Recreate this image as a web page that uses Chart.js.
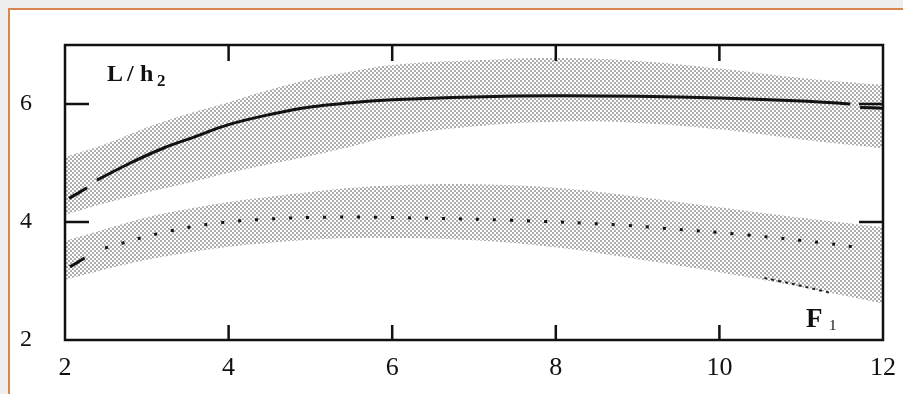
<!DOCTYPE html>
<html>
<head>
<meta charset="utf-8">
<script src="https://cdn.jsdelivr.net/npm/chart.js@4/dist/chart.umd.min.js"></script>
<style>
  body { margin: 0; background: #eeeeee; }
  #wrap { position: relative; width: 903px; height: 394px; overflow: hidden; }
  #sheet { position: absolute; left: 8px; top: 8px; right: -4px; bottom: -4px; background: #fff;
           border-left: 2px solid #d9854f; border-top: 2px solid #d9854f; }
  canvas { position: absolute; left: 0; top: 0; }
</style>
</head>
<body>
<div id="wrap">
  <div id="sheet"></div>
  <canvas id="chart" width="903" height="394"></canvas>
</div>
<script>
// axis ticks
const xTicks = [2, 4, 6, 8, 10, 12];
const yTicks = [2, 4, 6];

// shaded bands
const bandX = [2, 2.5, 3, 3.5, 4, 4.5, 5, 5.5, 6, 7, 8, 9, 10, 11, 12];
const upperBandTop = [5.10, 5.32, 5.60, 5.83, 6.03, 6.24, 6.42, 6.55, 6.66, 6.74, 6.78, 6.73, 6.60, 6.44, 6.32];
const upperBandBottom = [4.12, 4.32, 4.50, 4.66, 4.83, 4.98, 5.12, 5.28, 5.45, 5.62, 5.70, 5.68, 5.57, 5.40, 5.25];
const lowerBandTop = [3.68, 3.88, 4.08, 4.22, 4.34, 4.43, 4.51, 4.58, 4.62, 4.64, 4.58, 4.43, 4.25, 4.07, 3.91];
const lowerBandBottom = [3.02, 3.20, 3.36, 3.48, 3.58, 3.65, 3.70, 3.73, 3.73, 3.69, 3.57, 3.37, 3.15, 2.90, 2.62];

// solid curve (null = break in the line)
const solidX = [2.05, 2.27, 2.33, 2.39, 2.8, 3.2, 3.6, 4, 4.5, 5, 5.5, 6, 7, 8, 9, 10, 11, 11.6, 11.66, 11.72, 12];
const solidY = [4.40, 4.58, null, 4.71, 5.00, 5.25, 5.45, 5.65, 5.82, 5.95, 6.02, 6.07, 6.12, 6.14, 6.13, 6.10, 6.05, 6.00, null, 5.94, 5.93];

// dotted curve, first piece is a short dash
const dottedX = [2.06, 2.24, 2.35, 2.49, 3.16, 3.8, 4.48, 5.14, 5.77, 7.44, 8.78, 9.27, 10.34, 11.3, 11.74];
const dottedY = [3.24, 3.39, null, 3.56, 3.81, 3.97, 4.05, 4.08, 4.08, 4.03, 3.95, 3.90, 3.78, 3.64, 3.56];

// short dashed piece near the lower right
const tailX = [10.55, 10.9, 11.35];
const tailY = [3.05, 2.95, 2.80];

const pts = (xs, ys) => xs.map((x, i) => ({ x: x, y: ys[i] }));

// stipple pattern for the bands
const tile = document.createElement("canvas");
tile.width = 4; tile.height = 4;
const tc = tile.getContext("2d");
tc.fillStyle = "#8a8a8a";
[[1, 1], [3, 3]].forEach(p => { tc.beginPath(); tc.arc(p[0], p[1], 0.95, 0, Math.PI * 2); tc.fill(); });
const ctx = document.getElementById("chart").getContext("2d");
const stipple = ctx.createPattern(tile, "repeat");

const frame = {
  id: "frame",
  afterDraw(chart) {
    const a = chart.chartArea, c = chart.ctx;
    const sx = chart.scales.x, sy = chart.scales.y;
    c.save();
    c.strokeStyle = "#111";
    c.lineWidth = 2.5;
    c.strokeRect(a.left, a.top, a.right - a.left, a.bottom - a.top);
    // inward ticks
    [4, 6, 8, 10].forEach(v => {
      const px = sx.getPixelForValue(v);
      c.beginPath();
      c.moveTo(px, a.bottom); c.lineTo(px, a.bottom - 15);
      c.moveTo(px, a.top); c.lineTo(px, a.top + 16);
      c.stroke();
    });
    [4, 6].forEach(v => {
      const py = sy.getPixelForValue(v);
      c.beginPath();
      c.moveTo(a.left, py); c.lineTo(a.left + 24, py);
      c.moveTo(a.right, py); c.lineTo(a.right - 24, py);
      c.stroke();
    });
    // labels inside the frame
    c.fillStyle = "#111";
    c.textBaseline = "alphabetic";
    c.font = "bold 24px 'Liberation Serif'";
    c.fillText("L", 107, 81);
    c.fillText("/", 127, 81);
    c.fillText("h", 140, 81);
    c.font = "bold 17px 'Liberation Serif'";
    c.fillText("2", 157, 86);
    c.font = "bold 27px 'Liberation Serif'";
    c.fillText("F", 806, 327);
    c.font = "15px 'Liberation Serif'";
    c.fillText("1", 829, 330);
    c.restore();
  }
};

new Chart(ctx, {
  type: "line",
  data: {
    datasets: [
      { data: pts(solidX, solidY), borderColor: "#111", borderWidth: 3, pointRadius: 0,
        tension: 0.4, spanGaps: false, fill: false },
      { data: pts(dottedX, dottedY), borderColor: "#111", borderWidth: 3, pointRadius: 0,
        tension: 0.4, spanGaps: false, fill: false,
        segment: { borderDash: s => s.p0DataIndex < 2 ? [] : [3, 14] } },
      { data: pts(tailX, tailY), borderColor: "#222", borderWidth: 2, pointRadius: 0,
        borderDash: [3, 4], tension: 0.3, fill: false },
      { data: pts(bandX, upperBandTop), borderWidth: 0, pointRadius: 0, tension: 0.4,
        backgroundColor: stipple, fill: "+1" },
      { data: pts(bandX, upperBandBottom), borderWidth: 0, pointRadius: 0, tension: 0.4, fill: false },
      { data: pts(bandX, lowerBandTop), borderWidth: 0, pointRadius: 0, tension: 0.4,
        backgroundColor: stipple, fill: "+1" },
      { data: pts(bandX, lowerBandBottom), borderWidth: 0, pointRadius: 0, tension: 0.4, fill: false }
    ]
  },
  options: {
    responsive: false,
    animation: false,
    layout: { padding: { left: 0, right: 20, top: 45, bottom: 0 } },
    plugins: {
      legend: { display: false },
      tooltip: { enabled: false },
      filler: { drawTime: "beforeDatasetsDraw" }
    },
    scales: {
      x: {
        type: "linear", min: 2, max: 12,
        afterBuildTicks: s => { s.ticks = xTicks.map(v => ({ value: v })); },
        afterFit: s => { s.height = 54; },
        grid: { display: false }, border: { display: false },
        ticks: { padding: 5, color: "#111", font: { family: "'Liberation Serif'", size: 26 } }
      },
      y: {
        type: "linear", min: 2, max: 7,
        afterBuildTicks: s => { s.ticks = yTicks.map(v => ({ value: v })); },
        afterFit: s => { s.width = 65; },
        grid: { display: false }, border: { display: false },
        ticks: { padding: 25, color: "#111", font: { family: "'Liberation Serif'", size: 24 } }
      }
    }
  },
  plugins: [frame]
});
</script>
</body>
</html>
